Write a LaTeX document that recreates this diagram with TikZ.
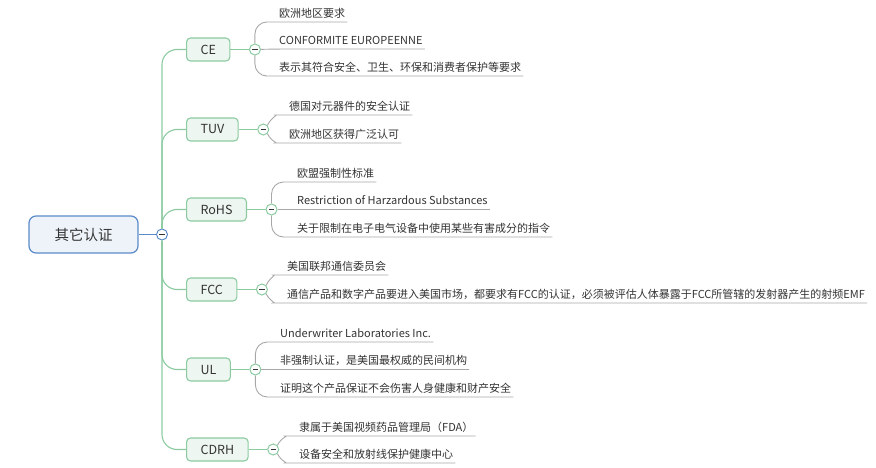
\documentclass[tikz,border=0pt]{standalone}
\usepackage{fontspec}
\setmainfont{Noto Sans CJK SC}
\usetikzlibrary{positioning}
\definecolor{rootblue}{HTML}{5A8BC8}
\definecolor{rootfill}{HTML}{EEF3FA}
\definecolor{brgreen}{HTML}{8CCBA0}
\definecolor{brfill}{HTML}{EDF6F0}
\definecolor{leafgrey}{HTML}{A8A8A8}
\definecolor{txt}{HTML}{333333}

\tikzset{
  rootbox/.style={draw=rootblue, fill=rootfill, line width=1.2pt, rounded corners=7pt,
    minimum width=109pt, minimum height=37pt, font=\fontsize{14.5}{16}\selectfont, text=txt},
  brbox/.style={draw=brgreen, fill=brfill, line width=1.1pt, rounded corners=4pt,
    anchor=west, inner xsep=14pt, minimum height=23pt, font=\fontsize{12.5}{14}\selectfont, text=txt},
  fold/.style={circle, fill=white, line width=1pt, minimum size=11pt, inner sep=0pt,
    path picture={\draw[txt, line width=0.8pt] (path picture bounding box.center) +(-2.6pt,0) -- +(2.6pt,0);}},
  leaf/.style={anchor=south west, inner xsep=2pt, inner ysep=2.5pt, text height=9pt,
    text depth=2pt, font=\fontsize{11}{13}\selectfont, text=txt},
  trunk/.style={draw=brgreen, line width=1.1pt, rounded corners=15pt},
  twig/.style={draw=leafgrey, line width=0.9pt, rounded corners=12pt}
}

\begin{document}
\begin{tikzpicture}[x=1pt, y=-1pt]
    \useasboundingbox (0,0) rectangle (876,468);
    % 中心主题
    \node[rootbox] (root) at (83.5,234.5) {其它认证};
    \node[fold, draw=rootblue] (rootc) at (162,234.5) {};
    \draw[rootblue, line width=1.2pt] (root) -- (rootc);
    % 分支
    \node[brbox] (ce) at (186,49.5) {CE};
    \node[brbox] (tuv) at (186,129.5) {TUV};
    \node[brbox] (rohs) at (186,209.5) {RoHS};
    \node[brbox] (fcc) at (186,289.5) {FCC};
    \node[brbox] (ul) at (186,369.5) {UL};
    \node[brbox] (cdrh) at (186,449.5) {CDRH};
    \foreach \b in {ce,tuv,rohs,fcc,ul,cdrh}{
        \draw[trunk] (rootc) |- (\b);
        \node[fold, draw=brgreen, right=18.5pt of \b] (\b c) {};
        \draw[brgreen, line width=1.1pt] (\b) -- (\b c);
    }
    % CE
    \node[leaf] (ce1) at (277,22) {欧洲地区要求};
    \node[leaf] (ce2) at (277,49) {CONFORMITE EUROPEENNE};
    \node[leaf] (ce3) at (277,76) {表示其符合安全、卫生、环保和消费者保护等要求};
    % TUV
    \node[leaf] (tuv1) at (287,115) {德国对元器件的安全认证};
    \node[leaf] (tuv2) at (287,143) {欧洲地区获得广泛认可};
    % RoHS
    \node[leaf] (rohs1) at (295,182) {欧盟强制性标准};
    \node[leaf] (rohs2) at (295,209.5) {Restriction of Harzardous Substances};
    \node[leaf] (rohs3) at (295,237) {关于限制在电子电气设备中使用某些有害成分的指令};
    % FCC
    \node[leaf] (fcc1) at (285,275) {美国联邦通信委员会};
    \node[leaf] (fcc2) at (285,303) {通信产品和数字产品要进入美国市场，都要求有FCC的认证，必须被评估人体暴露于FCC所管辖的发射器产生的射频EMF};
    % UL
    \node[leaf] (ul1) at (278,342) {Underwriter Laboratories Inc.};
    \node[leaf] (ul2) at (278,369.5) {非强制认证，是美国最权威的民间机构};
    \node[leaf] (ul3) at (278,397) {证明这个产品保证不会伤害人身健康和财产安全};
    % CDRH
    \node[leaf] (cdrh1) at (297,436) {隶属于美国视频药品管理局（FDA）};
    \node[leaf] (cdrh2) at (297,463) {设备安全和放射线保护健康中心};
    % 下划线
    \foreach \b/\l in {ce/ce1,ce/ce3,rohs/rohs1,rohs/rohs3,ul/ul1,ul/ul3}
        \draw[twig] (\b c) |- (\l.south west) -- (\l.south east);
    \foreach \b/\l in {ce/ce2,rohs/rohs2,ul/ul2}
        \draw[twig] (\b c) -- (\l.south west) -- (\l.south east);
    \foreach \b in {tuv,fcc,cdrh}{
        \draw[twig] (\b c.north east) to[out=65, in=180] (\b1.south west) -- (\b1.south east);
        \draw[twig] (\b c.south east) to[out=-65, in=180] (\b2.south west) -- (\b2.south east);
    }
\end{tikzpicture}
\end{document}
